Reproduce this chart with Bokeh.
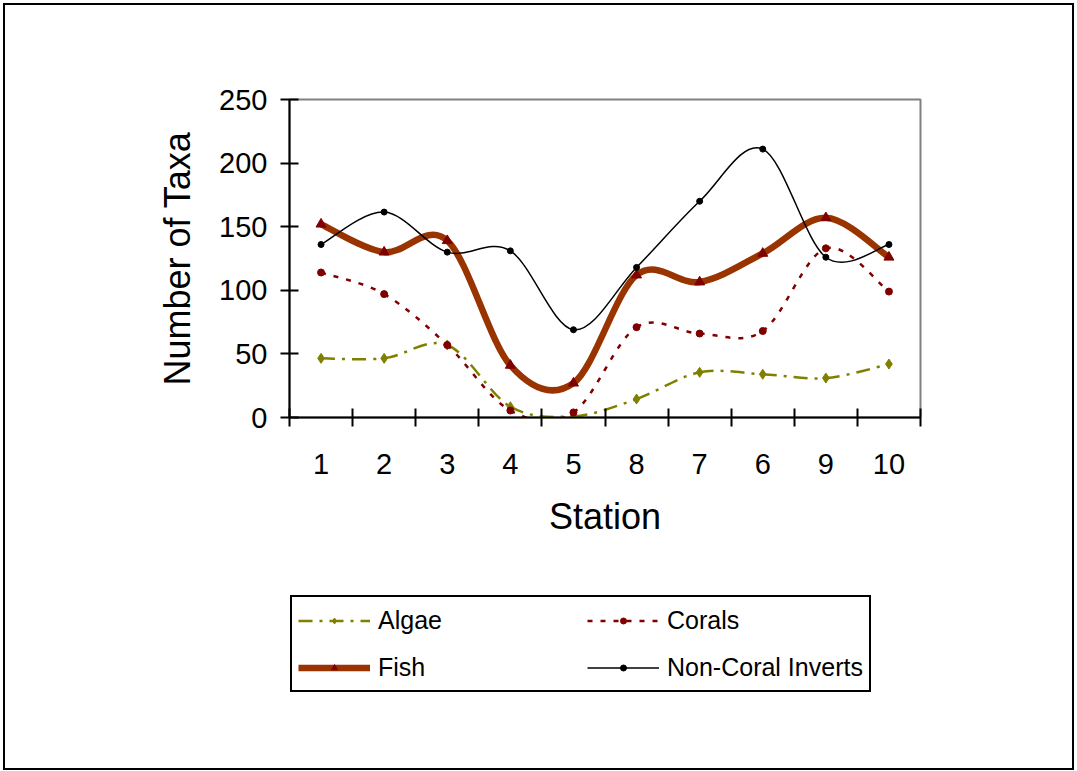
from bokeh.plotting import figure
from bokeh.layouts import column
from bokeh.models import (Range1d, FixedTicker, Legend, LegendItem, ColumnDataSource)
from bokeh.embed import file_html
from bokeh.resources import INLINE

# ---- data ----
stations = ["1", "2", "3", "4", "5", "8", "7", "6", "9", "10"]
algae = [46.5, 46.5, 57, 8.5, 1, 14.5, 35.5, 34, 31, 42]
corals = [114, 97, 57, 5.5, 4, 71, 66, 68, 133, 99]
fish = [152, 130, 139, 41, 27, 112, 106.5, 129, 157, 126]
inverts = [136, 161.5, 130, 131, 69, 118, 170, 211, 126, 136]
y_ticks = [0, 50, 100, 150, 200, 250]

FONT = "Liberation Sans"
xpos = list(range(1, len(stations) + 1))

STYLES = {
    "Algae": dict(line_color="#808000", line_width=2.5, line_dash="14 7 3 7"),
    "Corals": dict(line_color="#800000", line_width=2.5, line_dash="5 8"),
    "Fish": dict(line_color="#993300", line_width=6.5),
    "Non-Coral Inverts": dict(line_color="black", line_width=1.5),
}
MARKERS = {
    "Algae": dict(marker="diamond", size=10, color="#808000"),
    "Corals": dict(marker="circle", size=7, color="#800000"),
    "Fish": dict(marker="triangle", size=10, color="#800000"),
    "Non-Coral Inverts": dict(marker="circle", size=6, color="black"),
}
SERIES = [("Algae", algae), ("Corals", corals), ("Fish", fish), ("Non-Coral Inverts", inverts)]


def smooth_source(vals):
    """Bezier control points (Excel-style smoothed line) through the data points."""
    n = len(vals)
    P = list(zip(xpos, vals))
    d = dict(x0=[], y0=[], x1=[], y1=[], cx0=[], cy0=[], cx1=[], cy1=[])
    for i in range(n - 1):
        pm = P[max(i - 1, 0)]
        p0 = P[i]
        p1 = P[i + 1]
        p2 = P[min(i + 2, n - 1)]
        d["x0"].append(p0[0]); d["y0"].append(p0[1])
        d["x1"].append(p1[0]); d["y1"].append(p1[1])
        d["cx0"].append(p0[0] + (p1[0] - pm[0]) / 6.0)
        d["cy0"].append(p0[1] + (p1[1] - pm[1]) / 6.0)
        d["cx1"].append(p1[0] - (p2[0] - p0[0]) / 6.0)
        d["cy1"].append(p1[1] - (p2[1] - p0[1]) / 6.0)
    return ColumnDataSource(d)


BORDER = "2px solid black"

p = figure(width=1071, height=562, output_backend="svg", toolbar_location=None,
           x_range=Range1d(0.5, 10.5), y_range=Range1d(0, 250),
           min_border_left=284, min_border_right=156,
           min_border_top=94, min_border_bottom=150)
p.styles = {"border-top": BORDER, "border-left": BORDER, "border-right": BORDER}
p.xgrid.visible = False
p.ygrid.visible = False
p.outline_line_color = "#808080"
p.outline_line_width = 2
p.background_fill_color = "white"
p.border_fill_color = "white"

# y axis
p.yaxis.ticker = FixedTicker(ticks=y_ticks)
p.yaxis.major_tick_in = 9
p.yaxis.major_tick_out = 9
p.yaxis.minor_tick_in = 0
p.yaxis.minor_tick_out = 0
p.yaxis.major_label_standoff = 13
p.yaxis.axis_label = "Number of Taxa"
p.yaxis.axis_label_standoff = 18

# x axis: ticks between categories, labels at categories
p.xaxis.ticker = FixedTicker(ticks=xpos, minor_ticks=[x - 0.5 for x in xpos] + [xpos[-1] + 0.5])
p.xaxis.major_label_overrides = {x: s for x, s in zip(xpos, stations)}
p.xaxis.major_tick_in = 0
p.xaxis.major_tick_out = 0
p.xaxis.minor_tick_in = 9
p.xaxis.minor_tick_out = 9
p.xaxis.minor_tick_line_color = "black"
p.xaxis.minor_tick_line_width = 2
p.xaxis.major_label_standoff = 27
p.xaxis.axis_label = "Station"
p.xaxis.axis_label_standoff = 19

for ax in (p.xaxis, p.yaxis):
    ax.axis_line_color = "black"
    ax.axis_line_width = 2
    ax.major_tick_line_color = "black"
    ax.major_tick_line_width = 2
    ax.major_label_text_font = FONT
    ax.major_label_text_font_size = "29px"
    ax.major_label_text_color = "black"
    ax.axis_label_text_font = FONT
    ax.axis_label_text_font_size = "36px"
    ax.axis_label_text_font_style = "normal"
    ax.axis_label_text_color = "black"

# series (smoothed lines + markers at the data points)
for name, vals in SERIES:
    p.bezier("x0", "y0", "x1", "y1", "cx0", "cy0", "cx1", "cy1",
             source=smooth_source(vals), **STYLES[name])
    p.scatter(xpos, vals, **MARKERS[name])

# legend panel below the chart (its frame is aligned with the chart's frame)
p2 = figure(width=1071, height=205, output_backend="svg", toolbar_location=None,
            x_axis_type=None, y_axis_type=None,
            x_range=Range1d(0, 1), y_range=Range1d(0, 1),
            min_border_left=0, min_border_right=0, min_border_top=0, min_border_bottom=0)
p2.styles = {"border-bottom": BORDER, "border-left": BORDER, "border-right": BORDER}
p2.xgrid.visible = False
p2.ygrid.visible = False
p2.outline_line_color = None
p2.background_fill_color = "white"
p2.border_fill_color = "white"

nan = float("nan")
items = []
for name, _ in SERIES:
    lr = p2.line(x=[nan, nan], y=[nan, nan], **STYLES[name])
    mr = p2.scatter(x=[nan], y=[nan], **MARKERS[name])
    items.append(LegendItem(label=name, renderers=[lr, mr]))

legend = Legend(items=items, location=(1, 78), orientation="horizontal", ncols=2,
                glyph_width=72, glyph_height=15, label_height=34,
                label_standoff=8, label_width=196,
                spacing=13, padding=6, margin=0,
                label_text_font=FONT, label_text_font_size="25px", label_text_color="black",
                border_line_color="black", border_line_width=2, border_line_alpha=1,
                background_fill_color="white", background_fill_alpha=1)
p2.add_layout(legend, "center")

layout = column(p, p2, spacing=0, styles={"margin": "3px 0px 0px 3px"})

open("out.html", "w").write(file_html(layout, INLINE))
